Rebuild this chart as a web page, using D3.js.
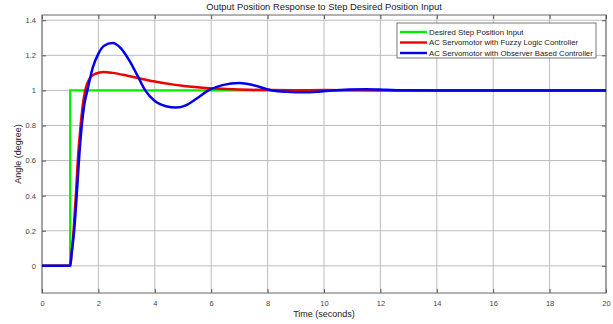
<!DOCTYPE html>
<html>
<head>
<meta charset="utf-8">
<script src="https://cdn.jsdelivr.net/npm/d3@7"></script>
<style>
  body { margin: 0; background: #fff; }
  svg text { font-family: "Liberation Sans", Arial, sans-serif; fill: #333; }
</style>
</head>
<body>
<div id="chart"></div>
<script>
// step input
const stepTime = [0, 1, 20];
const stepValue = [0, 1, 1];

// fuzzy logic controller response
const fuzzyTime = [0, 1.0, 1.05, 1.12, 1.2, 1.27, 1.37, 1.45, 1.53, 1.7, 1.9, 2.18, 2.5, 3.0, 3.5, 3.95, 4.66, 5.6, 6.8, 8, 9, 10, 11, 12, 20];
const fuzzyValue = [0, 0, 0.07, 0.2, 0.4, 0.6, 0.8, 0.92, 1.0, 1.07, 1.095, 1.105, 1.1, 1.085, 1.067, 1.052, 1.033, 1.016, 1.006, 1.002, 1.001, 1.002, 1.001, 1, 1];

// observer based controller response
const obsTime = [0, 1.0, 1.05, 1.14, 1.23, 1.31, 1.41, 1.5, 1.61, 1.8, 2.0, 2.2, 2.5, 2.8, 3.1, 3.4, 3.66, 4.0, 4.4, 4.75, 5.1, 5.5, 5.9, 6.4, 7.0, 7.5, 8.16, 8.7, 9.27, 9.8, 10.3, 10.9, 11.5, 12.2, 13, 14, 20];
const obsValue = [0, 0, 0.07, 0.2, 0.4, 0.6, 0.8, 0.92, 1.0, 1.13, 1.21, 1.255, 1.27, 1.24, 1.17, 1.08, 1.0, 0.94, 0.91, 0.902, 0.915, 0.955, 1.0, 1.03, 1.042, 1.03, 1.0, 0.992, 0.989, 0.993, 1.0, 1.005, 1.007, 1.004, 1.001, 1, 1];

const xTicks = [0, 2, 4, 6, 8, 10, 12, 14, 16, 18, 20];
const yTicks = [0, 0.2, 0.4, 0.6, 0.8, 1, 1.2, 1.4];

const legendLabels = [
  "Desired Step Position Input",
  "AC Servomotor with Fuzzy Logic Controller",
  "AC Servomotor with Observer Based Controller"
];
const seriesColors = ["#00ee00", "#ee0000", "#0000ee"];

let width = 613, height = 324;
let margin = {top: 15, right: 7, bottom: 31, left: 42};
let w = width - margin.left - margin.right;
let h = height - margin.top - margin.bottom;

let svg = d3.select('#chart').append('svg')
  .attr('width', width)
  .attr('height', height);

let g = svg.append('g')
  .attr('transform', 'translate(' + margin.left + ',' + margin.top + ')');

let x = d3.scaleLinear().domain([0, 20]).range([0, w]);
let y = d3.scaleLinear().domain([-0.155, 1.43]).range([h, 0]);

// grid
g.selectAll('line.gx').data(xTicks).enter().append('line')
  .attr('x1', d => x(d)).attr('x2', d => x(d))
  .attr('y1', 0).attr('y2', h)
  .attr('stroke', '#bdbdbd').attr('stroke-width', 1);
g.selectAll('line.gy').data(yTicks).enter().append('line')
  .attr('x1', 0).attr('x2', w)
  .attr('y1', d => y(d)).attr('y2', d => y(d))
  .attr('stroke', '#bdbdbd').attr('stroke-width', 1);

// axes (ticks inward)
let xAxis = g.append('g').attr('transform', 'translate(0,' + h + ')')
  .call(d3.axisBottom(x).tickValues(xTicks).tickSizeInner(-4).tickSizeOuter(0).tickPadding(8));
let xTop = g.append('g')
  .call(d3.axisTop(x).tickValues(xTicks).tickSizeInner(-4).tickSizeOuter(0).tickFormat(''));
let yAxis = g.append('g')
  .call(d3.axisLeft(y).tickValues(yTicks).tickSizeInner(-4).tickSizeOuter(0).tickPadding(6)
    .tickFormat(d => d3.format('~g')(d)));
let yRight = g.append('g').attr('transform', 'translate(' + w + ',0)')
  .call(d3.axisRight(y).tickValues(yTicks).tickSizeInner(-4).tickSizeOuter(0).tickFormat(''));

[xAxis, xTop, yAxis, yRight].forEach(a => {
  a.select('.domain').remove();
  a.selectAll('line').attr('stroke', '#555');
  a.selectAll('text').attr('font-size', 7.5).style('fill', '#444');
});

g.append('rect')
  .attr('width', w).attr('height', h)
  .attr('fill', 'none').attr('stroke', '#666').attr('stroke-width', 1);

// series
let clip = svg.append('clipPath').attr('id', 'clip').append('rect')
  .attr('width', w).attr('height', h);

let stepLine = d3.line().x(d => x(d[0])).y(d => y(d[1])).curve(d3.curveStepAfter);
let smoothLine = d3.line().x(d => x(d[0])).y(d => y(d[1])).curve(d3.curveMonotoneX);

let lines = g.append('g').attr('clip-path', 'url(#clip)');
lines.append('path')
  .datum(d3.zip(stepTime, stepValue))
  .attr('d', stepLine)
  .attr('fill', 'none').attr('stroke', seriesColors[0]).attr('stroke-width', 2.2);
lines.append('path')
  .datum(d3.zip(fuzzyTime, fuzzyValue))
  .attr('d', smoothLine)
  .attr('fill', 'none').attr('stroke', seriesColors[1]).attr('stroke-width', 2.5);
lines.append('path')
  .datum(d3.zip(obsTime, obsValue))
  .attr('d', smoothLine)
  .attr('fill', 'none').attr('stroke', seriesColors[2]).attr('stroke-width', 2.5);

// legend
let lg = svg.append('g').attr('transform', 'translate(397,23)');
lg.append('rect')
  .attr('width', 199).attr('height', 35)
  .attr('fill', '#fff').attr('stroke', '#555').attr('stroke-width', 0.8);
legendLabels.forEach((label, i) => {
  let ly = 9 + i * 10.5;
  lg.append('line')
    .attr('x1', 3).attr('x2', 30).attr('y1', ly).attr('y2', ly)
    .attr('stroke', seriesColors[i]).attr('stroke-width', 2.4);
  lg.append('text')
    .attr('x', 32).attr('y', ly + 2.8)
    .attr('font-size', 7.8).style('fill', '#222')
    .text(label);
});

// titles
svg.append('text')
  .attr('x', margin.left + w / 2).attr('y', 10)
  .attr('text-anchor', 'middle').attr('font-size', 9.4).style('fill', '#222')
  .text('Output Position Response to Step Desired Position Input');
svg.append('text')
  .attr('x', margin.left + w / 2).attr('y', 317)
  .attr('text-anchor', 'middle').attr('font-size', 9).style('fill', '#222')
  .text('Time (seconds)');
svg.append('text')
  .attr('transform', 'translate(21,' + (margin.top + h / 2) + ')rotate(-90)')
  .attr('text-anchor', 'middle').attr('font-size', 9).style('fill', '#222')
  .text('Angle (degree)');
</script>
</body>
</html>
